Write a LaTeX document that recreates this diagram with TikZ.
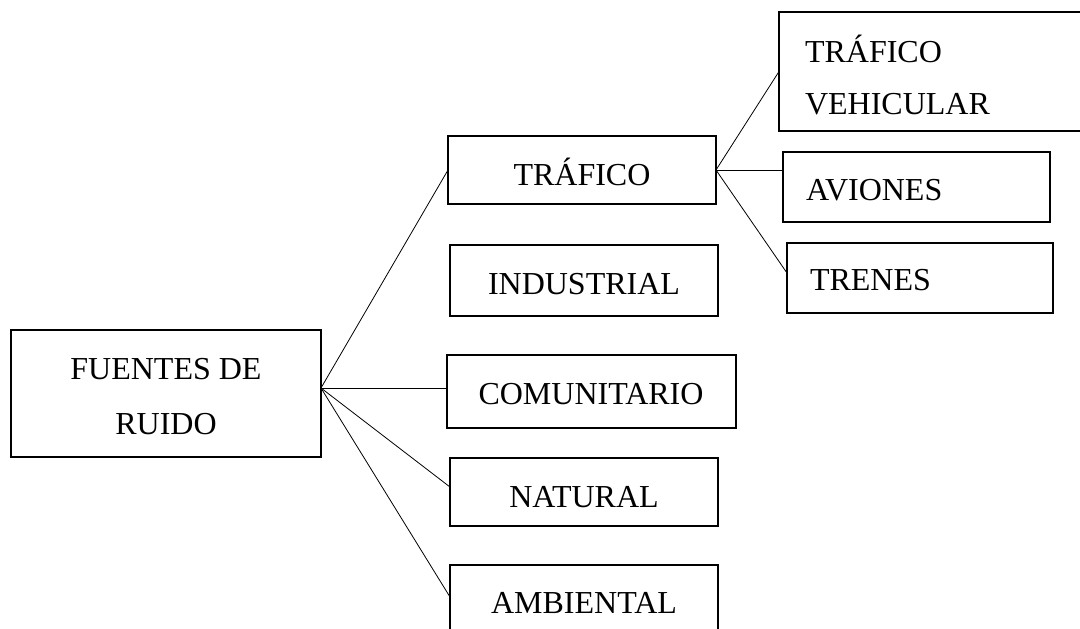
\documentclass[tikz,border=0pt]{standalone}
\usepackage{fontspec}
\setmainfont{Liberation Serif}
\begin{document}
\begin{tikzpicture}[x=1pt,y=-1pt,
  box/.style={draw=black,line width=2.2pt,inner sep=0pt,outer sep=0pt},
  txt/.style={inner sep=0pt,outer sep=0pt,font=\fontsize{32}{32}\selectfont},
  conn/.style={draw=black,line width=0.8pt}]
\useasboundingbox (0,0) rectangle (1080,629);
\clip (0,0) rectangle (1080,629);
% boxes
\node[box,minimum width=310pt,minimum height=127pt] (fue) at (166,393.5) {};
\node[box,minimum width=268pt,minimum height=68pt] (tra) at (582,170) {};
\node[box,minimum width=268pt,minimum height=71pt] (ind) at (584,280.5) {};
\node[box,minimum width=289pt,minimum height=73pt] (com) at (591.5,391.5) {};
\node[box,minimum width=268pt,minimum height=68pt] (nat) at (584,492) {};
\node[box,minimum width=268pt,minimum height=95pt] (amb) at (584,612.5) {};
\node[box,minimum width=321pt,minimum height=119pt] (veh) at (939.5,71.5) {};
\node[box,minimum width=267pt,minimum height=70pt] (avi) at (916.5,187) {};
\node[box,minimum width=266pt,minimum height=70pt] (tre) at (920,278) {};
% texts
\node[txt,anchor=base] (tfue1) at (166,379) {FUENTES DE};
\node[txt,anchor=base] (tfue2) at (166,434) {RUIDO};
\node[txt,anchor=base] (ttra) at (582,185) {TRÁFICO};
\node[txt,anchor=base] (tind) at (584,294) {INDUSTRIAL};
\node[txt,anchor=base] (tcom) at (591,404) {COMUNITARIO};
\node[txt,anchor=base] (tnat) at (584,507) {NATURAL};
\node[txt,anchor=base] (tamb) at (584,613) {AMBIENTAL};
\node[txt,anchor=base west] (tveh1) at (805,62) {TRÁFICO};
\node[txt,anchor=base west] (tveh2) at (805,114) {VEHICULAR};
\node[txt,anchor=base west] (tavi) at (806,200) {AVIONES};
\node[txt,anchor=base west] (ttre) at (810,290) {TRENES};
% connectors
\coordinate (j1) at ([yshift=5.5pt]fue.east);
\coordinate (j2) at (tra.east);
\draw[conn] (j1) -- (tra.west);
\draw[conn] (j1) -- (com.west |- j1);
\draw[conn] (j1) -- ([yshift=5pt]nat.west);
\draw[conn] (j1) -- ([yshift=-32pt]amb.north west);
\draw[conn] (j2) -- (veh.west);
\draw[conn] (j2) -- (avi.west |- j2);
\draw[conn] (j2) -- ([yshift=5pt]tre.west);
\end{tikzpicture}
\end{document}
